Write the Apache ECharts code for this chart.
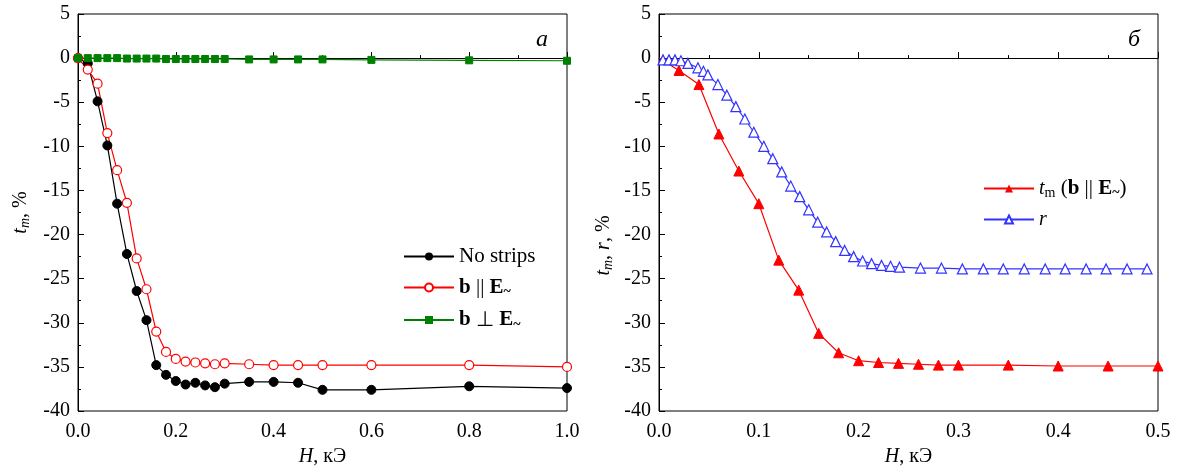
<!DOCTYPE html>
<html><head><meta charset="utf-8">
<script src="https://cdn.jsdelivr.net/npm/echarts@6/dist/echarts.min.js"></script>
<style>html,body{margin:0;padding:0;background:#fff}#c{width:1177px;height:473px}</style>
</head><body><div id="c"></div>
<script>
// Left panel (а)
const leftH      = [0,0.02,0.04,0.06,0.08,0.10,0.12,0.14,0.16,0.18,0.20,0.22,0.24,0.26,0.28,0.30,0.35,0.40,0.45,0.50,0.60,0.80,1.00];
const noStrips   = [0,-0.6,-4.9,-9.9,-16.5,-22.2,-26.4,-29.7,-34.8,-35.9,-36.6,-37.0,-36.8,-37.1,-37.3,-36.9,-36.7,-36.7,-36.8,-37.6,-37.6,-37.2,-37.4];
const bPar       = [0,-1.3,-2.9,-8.5,-12.7,-16.4,-22.7,-26.2,-31.0,-33.3,-34.1,-34.4,-34.5,-34.6,-34.7,-34.6,-34.7,-34.8,-34.8,-34.8,-34.8,-34.8,-35.0];
const bPerp      = [0,0,0,0,0,-0.05,-0.05,-0.05,-0.05,-0.1,-0.1,-0.1,-0.1,-0.1,-0.1,-0.1,-0.15,-0.15,-0.15,-0.15,-0.2,-0.25,-0.3];
// Right panel (б)
const rightH     = [0,0.02,0.04,0.06,0.08,0.10,0.12,0.14,0.16,0.18,0.20,0.22,0.24,0.26,0.28,0.30,0.35,0.40,0.45,0.50];
const tmPar      = [0,-1.4,-3.0,-8.6,-12.8,-16.5,-22.9,-26.3,-31.2,-33.4,-34.3,-34.5,-34.6,-34.7,-34.8,-34.8,-34.8,-34.9,-34.9,-34.9];
const rH         = [0.004,0.010,0.016,0.022,0.029,0.039,0.0445,0.049,0.059,0.068,0.077,0.086,0.095,0.105,0.114,0.123,0.132,0.141,0.150,0.159,0.168,0.177,0.186,0.195,0.204,0.213,0.223,0.232,0.241,0.262,0.283,0.304,0.325,0.345,0.366,0.387,0.407,0.428,0.448,0.469,0.489];
const rVal       = [-0.2,-0.2,-0.2,-0.3,-0.6,-1.1,-1.5,-1.9,-3.0,-4.2,-5.5,-6.9,-8.4,-10.0,-11.4,-12.9,-14.5,-15.7,-17.2,-18.6,-19.7,-20.8,-21.8,-22.5,-23.0,-23.3,-23.5,-23.6,-23.7,-23.8,-23.8,-23.9,-23.9,-23.9,-23.9,-23.9,-23.9,-23.9,-23.9,-23.9,-23.9];
const yTicks = {min:-40, max:5, interval:5};

const F = 'Liberation Serif';
const zip = (a,b) => a.map((v,i)=>[v,b[i]]);
const richBase = {
  n:{fontFamily:F,fontSize:20,color:'#000'},
  i:{fontFamily:F,fontSize:20,fontStyle:'italic',color:'#000'},
  si:{fontFamily:F,fontSize:14,fontStyle:'italic',color:'#000',padding:[9,0,0,0]},
  sr:{fontFamily:F,fontSize:14,color:'#000',padding:[9,0,0,0]},
  b:{fontFamily:F,fontSize:21,fontWeight:'bold',color:'#000'},
  s:{fontFamily:F,fontSize:14,fontWeight:'bold',color:'#000',padding:[10,0,0,0]},
  l:{fontFamily:F,fontSize:21,color:'#000'},
  t:{fontFamily:F,fontSize:20,color:'#000'}
};
function xAxis(gi, max, interval){
  return {gridIndex:gi, type:'value', min:0, max:max, interval:interval,
    axisLine:{show:true,lineStyle:{color:'#000',width:1}},
    axisTick:{show:true,inside:true,length:6,lineStyle:{color:'#000'}},
    minorTick:{show:true,splitNumber:2,length:3,lineStyle:{color:'#000'}},
    splitLine:{show:false},
    axisLabel:{fontFamily:F,fontSize:20,color:'#000',margin:11,rich:richBase,formatter:v=>'{t|'+v.toFixed(1)+'}'},
    name:'{i|H}{n|, кЭ}', nameLocation:'middle', nameGap:32, nameTextStyle:{rich:richBase}};
}
function yAxis(gi, name, gap, pad){
  return {gridIndex:gi, type:'value', min:yTicks.min, max:yTicks.max, interval:yTicks.interval,
    axisLine:{show:true,lineStyle:{color:'#000',width:1}},
    axisTick:{show:true,inside:true,length:6,lineStyle:{color:'#000'}},
    minorTick:{show:true,splitNumber:2,length:3,lineStyle:{color:'#000'}},
    splitLine:{show:false},
    axisLabel:{fontFamily:F,fontSize:20,color:'#000',margin:8,rich:richBase,formatter:v=>'{t|'+v+'}'},
    name:name, nameLocation:'middle', nameGap:gap, nameTextStyle:{rich:richBase, padding:pad}};
}
const tmData = zip(rightH,tmPar).map((p,i)=> i===0 ? {value:p, symbol:'none'} : p);
const chart = echarts.init(document.getElementById('c'), null, {renderer:'canvas'});
chart.setOption({
  animation:false,
  backgroundColor:'#fff',
  textStyle:{fontFamily:F},
  grid:[
    {left:78, right:610, top:14, bottom:62, show:true, borderColor:'#000', borderWidth:1},
    {left:659, right:19, top:14, bottom:62, show:true, borderColor:'#000', borderWidth:1}
  ],
  xAxis:[xAxis(0,1.0,0.2), xAxis(1,0.5,0.1)],
  yAxis:[yAxis(0,'{i|t}{si|m}{n|, %}',46,[0,0,0,0]), yAxis(1,'{i|t}{si|m}{n|, }{i|r}{n|, %}',44,[0,66,0,0])],
  legend:[
    {orient:'vertical', left:398, top:241, itemWidth:50, itemHeight:10, itemGap:10,
     data:['No strips','bpar','bperp'],
     formatter:n=>({'No strips':'{l|No strips}','bpar':'{b|b}{l| || }{b|E}{s|~}','bperp':'{b|b}{l| ⊥ }{b|E}{s|~}'})[n],
     textStyle:{rich:richBase, fontFamily:F, fontSize:21}},
    {orient:'vertical', left:978, top:173, itemWidth:50, itemHeight:10, itemGap:9,
     data:['tm','r'],
     formatter:n=>({'tm':'{i|t}{sr|m}{l| (}{b|b}{l| || }{b|E}{s|~}{l|)}','r':'{i|r}'})[n],
     textStyle:{rich:richBase, fontFamily:F, fontSize:21}}
  ],
  graphic:[
    {type:'text', left:536, top:28, style:{text:'а', fontFamily:F, fontSize:24, fontStyle:'italic', fill:'#000'}},
    {type:'text', left:1128, top:28, style:{text:'б', fontFamily:F, fontSize:24, fontStyle:'italic', fill:'#000'}}
  ],
  series:[
    {name:'No strips', type:'line', xAxisIndex:0, yAxisIndex:0, data:zip(leftH,noStrips),
     symbol:'circle', symbolSize:9, lineStyle:{color:'#000',width:1.2}, itemStyle:{color:'#000',borderColor:'#000'}},
    {name:'bpar', type:'line', xAxisIndex:0, yAxisIndex:0, data:zip(leftH,bPar),
     symbol:'circle', symbolSize:9, lineStyle:{color:'#ff0000',width:1.2}, itemStyle:{color:'#fff',borderColor:'#ff0000',borderWidth:1.2}},
    {name:'bperp', type:'line', xAxisIndex:0, yAxisIndex:0, data:zip(leftH,bPerp),
     symbol:'rect', symbolSize:7, lineStyle:{color:'#008000',width:1.2}, itemStyle:{color:'#008000',borderColor:'#008000'}},
    {name:'tm', type:'line', xAxisIndex:1, yAxisIndex:1, data:tmData,
     symbol:'triangle', symbolSize:10, lineStyle:{color:'#ff0000',width:1.2}, itemStyle:{color:'#ff0000',borderColor:'#ff0000'}},
    {name:'r', type:'line', xAxisIndex:1, yAxisIndex:1, data:zip(rH,rVal),
     symbol:'triangle', symbolSize:10, lineStyle:{color:'#3333ff',width:1.2}, itemStyle:{color:'#fff',borderColor:'#3333ff',borderWidth:1.2}}
  ]
});
</script></body></html>
